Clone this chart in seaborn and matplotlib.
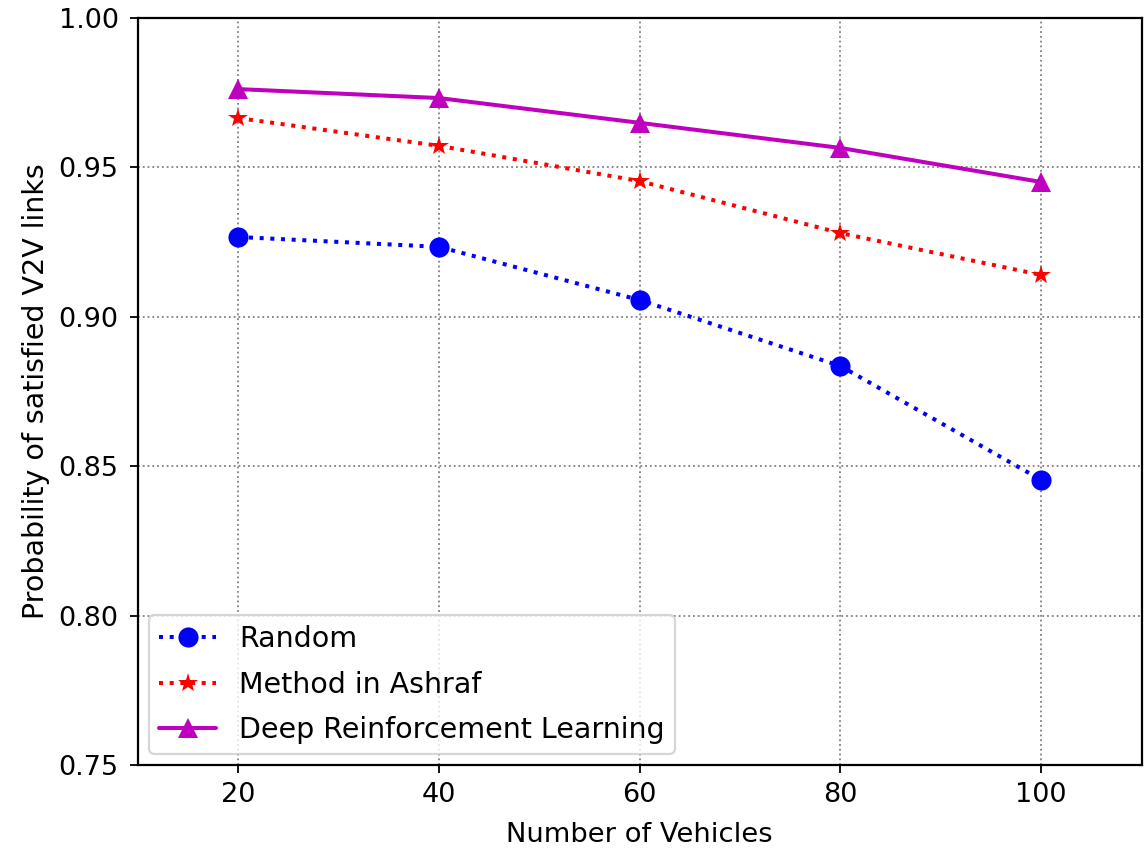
import pandas as pd
import seaborn as sns
import matplotlib.pyplot as plt

# --- Data ---
vehicles = [20, 40, 60, 80, 100]
random_prob = [0.9267, 0.9234, 0.9056, 0.8835, 0.8454]
ashraf_prob = [0.9665, 0.9572, 0.9454, 0.9280, 0.9140]
drl_prob = [0.9762, 0.9732, 0.9649, 0.9565, 0.9451]

sns.set_style("ticks", {"text.color": "black", "axes.labelcolor": "black",
                        "xtick.color": "black", "ytick.color": "black",
                        "axes.edgecolor": "black"})
plt.rcParams["font.family"] = ["DejaVu Sans"]

df = pd.DataFrame({
    "Vehicles": vehicles * 3,
    "Prob": random_prob + ashraf_prob + drl_prob,
    "Method": ["Random"] * 5 + ["Method in Ashraf"] * 5 + ["Deep Reinforcement Learning"] * 5,
})

fig = plt.figure(figsize=(11.45, 8.48), dpi=100)
ax = fig.add_axes([0.1205, 0.0979, 0.8765, 0.8809])

styles = {
    "Random": dict(color="blue", linestyle=":", marker="o", markersize=14.5),
    "Method in Ashraf": dict(color="red", linestyle=":", marker="*", markersize=15),
    "Deep Reinforcement Learning": dict(color="m", linestyle="-", marker="^", markersize=14.5),
}

for name, st in styles.items():
    sub = df[df["Method"] == name]
    sns.lineplot(data=sub, x="Vehicles", y="Prob", ax=ax, label=name,
                 linewidth=2.9, markeredgewidth=0, **st)

ax.set_xlim(10, 110)
ax.set_ylim(0.75, 1.00)
ax.set_xticks(vehicles)
ax.set_yticks([0.75, 0.80, 0.85, 0.90, 0.95, 1.00])
ax.tick_params(labelsize=19.5, length=6, width=1.3)
ax.tick_params(axis="y", pad=8)
ax.tick_params(axis="x", pad=6)
ax.grid(True, linestyle=":", color="gray", linewidth=1.3)
for s in ax.spines.values():
    s.set_linewidth(1.6)

ax.set_xlabel("Number of Vehicles", fontsize=19.7, labelpad=10)
ax.set_ylabel("Probability of satisfied V2V links", fontsize=20.5, labelpad=6)

leg = ax.legend(loc="lower left", fontsize=20.5, frameon=True, fancybox=True,
                handlelength=2.0, borderaxespad=0.4, labelspacing=0.6,
                borderpad=0.35)
leg.get_frame().set_edgecolor("#cccccc")
leg.get_frame().set_linewidth(1.6)

fig.savefig("out.png", dpi=100)
